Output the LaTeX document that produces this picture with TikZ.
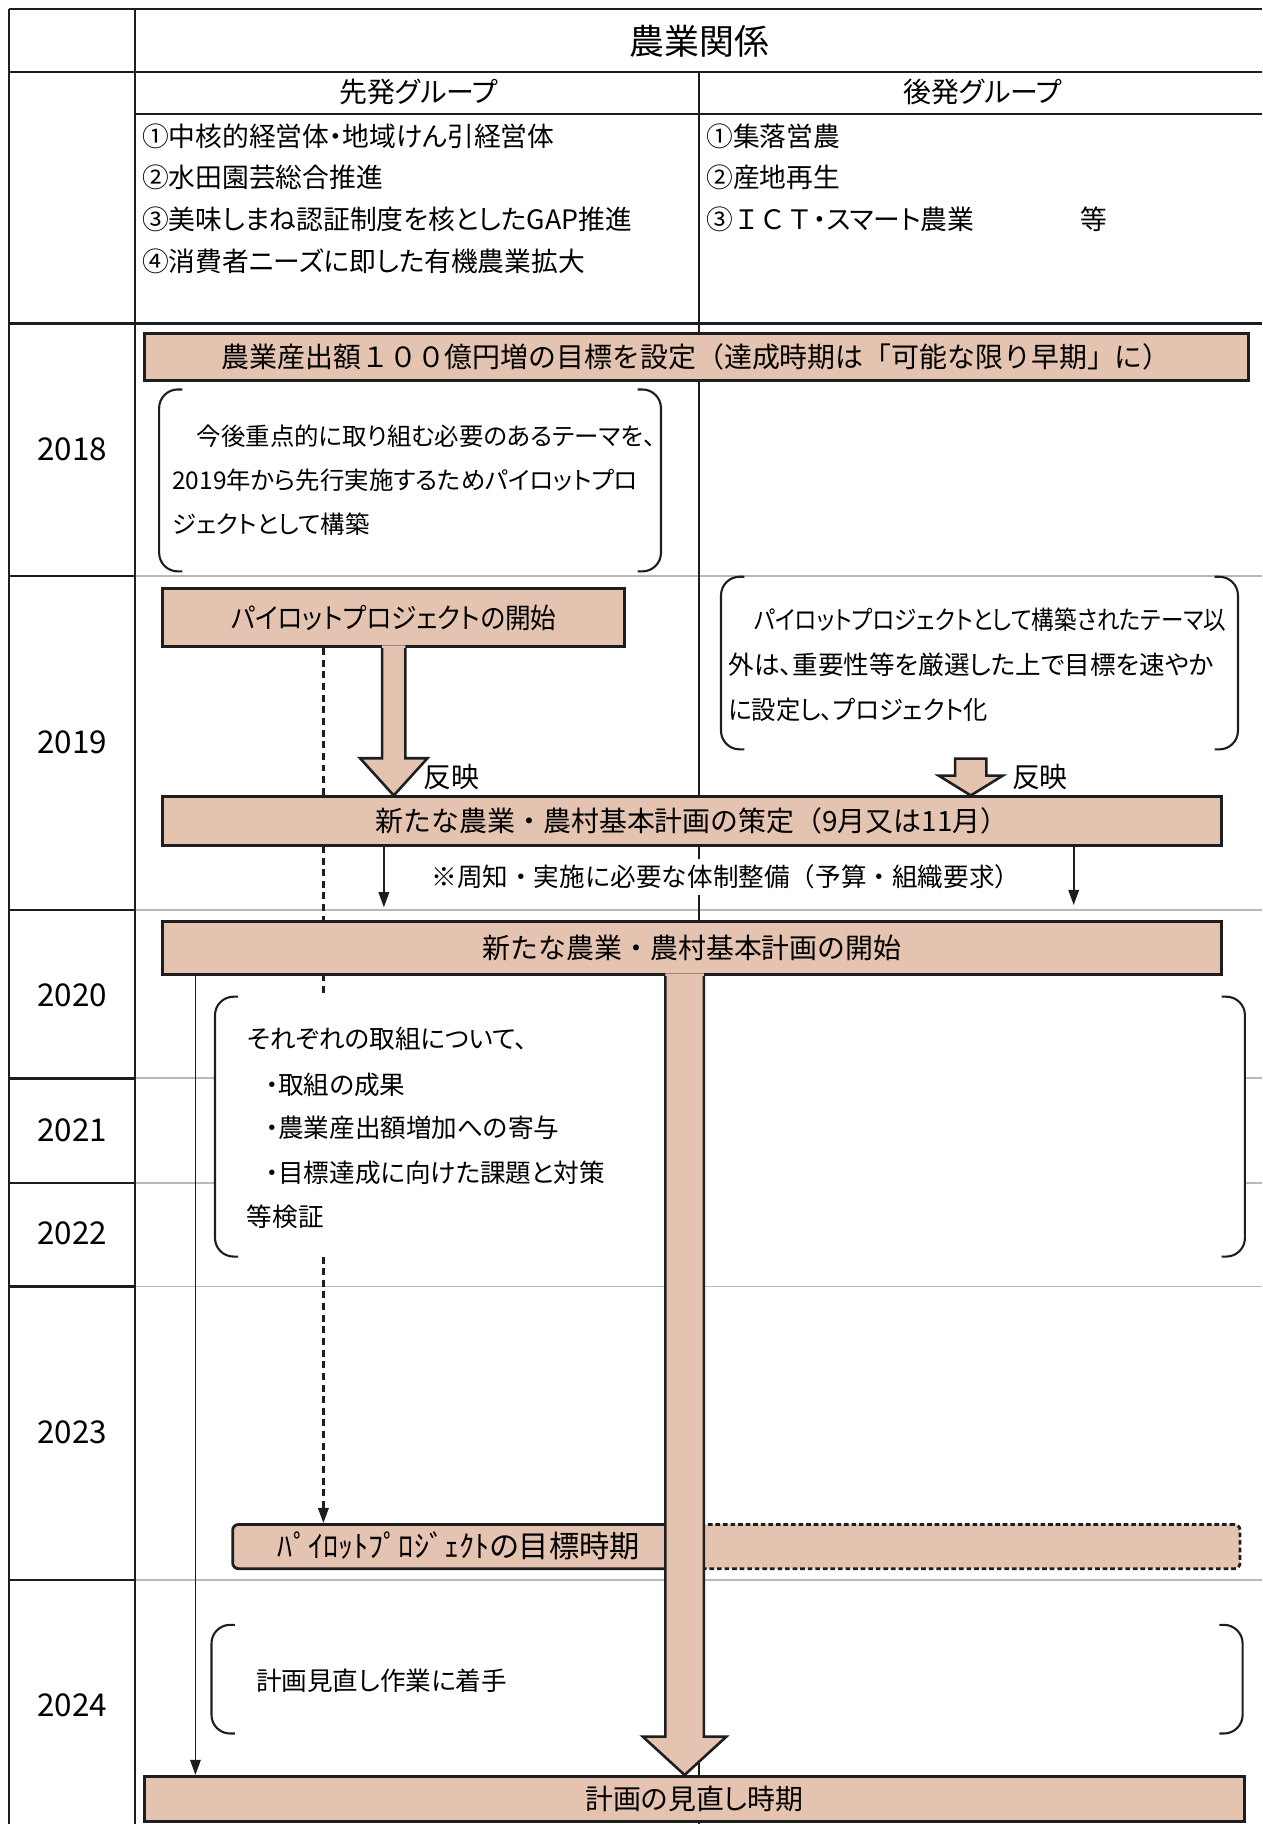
\documentclass[tikz,border=0pt]{standalone}
\usepackage{fontspec}
\usepackage{graphicx}
\setmainfont{Noto Sans CJK JP}[RawFeature=+palt]
\newfontfamily\jpw{Noto Sans CJK JP}
\usetikzlibrary{calc,arrows.meta,backgrounds}
\definecolor{boxfill}{RGB}{228,196,176}
\definecolor{gridgrey}{RGB}{185,185,185}
\definecolor{ink}{RGB}{30,30,30}
\newcommand{\fs}[1]{\fontsize{#1}{#1}\selectfont}
\newcommand{\brackets}[1]{%
 \draw[brk] ($(#1.north west)+(20,0)$) -- (#1.north west) -- (#1.south west) -- ($(#1.south west)+(20,0)$);
 \draw[brk] ($(#1.north east)+(-20,0)$) -- (#1.north east) -- (#1.south east) -- ($(#1.south east)+(-20,0)$);}
\newcommand{\hollowarrow}[5]{%
 \fill[boxfill] let \p1=(#1), \p2=(#2) in
  (\x1-#3pt,\y1+2.5pt) -- (\x1-#3pt,\y2+#5pt) -- (\x1-#4pt,\y2+#5pt) -- (\x1,\y2) -- (\x1+#4pt,\y2+#5pt) -- (\x1+#3pt,\y2+#5pt) -- (\x1+#3pt,\y1+2.5pt) -- cycle;
 \draw[arr] let \p1=(#1), \p2=(#2) in
  (\x1-#3pt,\y1) -- (\x1-#3pt,\y2+#5pt) -- (\x1-#4pt,\y2+#5pt) -- (\x1,\y2) -- (\x1+#4pt,\y2+#5pt) -- (\x1+#3pt,\y2+#5pt) -- (\x1+#3pt,\y1);}
\newcommand{\closedarrow}[5]{%
 \filldraw[arr, fill=boxfill] let \p1=(#1), \p2=(#2) in
  (\x1-#3pt,\y1) -- (\x1-#3pt,\y2+#5pt) -- (\x1-#4pt,\y2+#5pt) -- (\x1,\y2) -- (\x1+#4pt,\y2+#5pt) -- (\x1+#3pt,\y2+#5pt) -- (\x1+#3pt,\y1) -- cycle;}
\newcommand{\hs}[2]{\scalebox{#1}[1]{#2}}
\begin{document}
\begin{tikzpicture}[x=1pt,y=-1pt,
  fsz/.style={font=\fs{#1}, text height=#1*0.86pt, text depth=#1*0.12pt},
  fszw/.style={font=\fs{#1}\jpw, text height=#1*0.86pt, text depth=#1*0.12pt},
  lbl/.style={inner sep=0pt},
  ln/.style={lbl, anchor=west},
  tbox/.style={draw=ink, line width=2.4pt, fill=boxfill, inner sep=0pt, fsz=24},
  bbox/.style={fill=white, draw=none, inner sep=0pt},
  brk/.style={draw=ink, line width=1.8pt, rounded corners=16pt},
  thinarr/.style={draw=ink, line width=1.6pt, -{Triangle[length=13pt,width=9pt]}},
  dashln/.style={draw=ink, line width=2pt, dash pattern=on 6pt off 4pt},
  blk/.style={draw=ink, line width=2pt},
  gry/.style={draw=gridgrey, line width=1.5pt},
  arr/.style={draw=ink, line width=2.2pt, line join=miter},
  yr/.style={lbl, fsz=27},
  item/.style={ln, fsz=23},
  btxt/.style={ln, fsz=22}]
\useasboundingbox (0,0) rectangle (1085,1568);

% header
\node[lbl, fsz=30] (hdr) at (601,36) {農業関係};
\node[lbl, fsz=24] (g1) at (360,79) {先発グループ};
\node[lbl, fsz=24] (g2) at (845,79) {後発グループ};
\node[item] (i1) at (122,117) {①中核的経営体・地域けん引経営体};
\node[item] (i2) at (122,153) {②水田園芸総合推進};
\node[item] (i3) at (122,189) {③美味しまね認証制度を核としたGAP推進};
\node[item] (i4) at (122,225) {④消費者ニーズに即した有機農業拡大};
\node[item] (j1) at (607,117) {①集落営農};
\node[item] (j2) at (607,153) {②産地再生};
\node[item] (j3) at (607,189) {\makebox[322pt][l]{③{\jpw ＩＣＴ}・スマート農業}等};

% years
\node[yr] (y18) at (62,386) {2018};
\node[yr] (y19) at (62,638) {2019};
\node[yr] (y20) at (62,855) {2020};
\node[yr] (y21) at (62,971) {2021};
\node[yr] (y22) at (62,1060) {2022};
\node[yr] (y23) at (62,1231) {2023};
\node[yr] (y24) at (62,1466) {2024};

% bracket areas
\node[bbox, minimum width=431pt, minimum height=156pt] (b18) at (352.5,413) {};
\node[bbox, minimum width=444pt, minimum height=148pt] (b19) at (842,570) {};
\node[bbox, minimum width=885pt, minimum height=223pt] (b20) at (627.5,968.5) {};
\node[bbox, minimum width=886pt, minimum height=93pt] (b24) at (625,1443.5) {};
\brackets{b18}
\brackets{b19}
\brackets{b20}
\brackets{b24}

\node[btxt, fsz=21] (t18a) at (148,375) {　今後重点的に取り組む必要のあるテーマを、};
\node[btxt, fsz=21] (t18b) at (148,413) {2019年から先行実施するためパイロットプロ};
\node[btxt, fsz=21] (t18c) at (148,451) {ジェクトとして構築};
\node[btxt] (t19a) at (626,533) {　\hs{0.88}{パイロットプロジェクトとして構築されたテーマ以}};
\node[btxt] (t19b) at (626,572) {外は、重要性等を厳選した上で目標を速やか};
\node[btxt] (t19c) at (626,610) {\hs{0.95}{に設定し、プロジェクト化}};
\node[btxt] (t20a) at (212,893) {それぞれの取組について、};
\node[btxt] (t20b) at (228,933) {・取組の成果};
\node[btxt] (t20c) at (228,970) {・農業産出額増加への寄与};
\node[btxt] (t20d) at (228,1008) {・目標達成に向けた課題と対策};
\node[btxt] (t20e) at (212,1046) {等検証};
\node[btxt] (t24a) at (220,1445) {計画見直し作業に着手};

% boxes
\node[tbox, minimum width=949pt, minimum height=40pt, fszw=24] (goal) at (598.5,307) {農業産出額１００億円増の目標を設定（達成時期は「可能な限り早期」に）};
\node[tbox, minimum width=397pt, minimum height=50pt] (pilot) at (338.5,531) {\hs{0.92}{パイロットプロジェクトの開始}};
\node[tbox, minimum width=910pt, minimum height=42pt, fszw=24] (plan) at (595,706) {新たな農業・農村基本計画の策定（9月又は11月）};
\node[tbox, minimum width=910pt, minimum height=46pt, fszw=24] (planstart) at (595,815) {新たな農業・農村基本計画の開始};
\node[tbox, dash pattern=on 4pt off 2.5pt, rounded corners=5pt, minimum width=477pt, minimum height=38pt] (ptdash) at (827.5,1329.5) {};
\node[tbox, rounded corners=5pt, minimum width=389pt, minimum height=38pt, fsz=26] (ptarget) at (394.5,1329.5) {ﾊﾟｲﾛｯﾄﾌﾟﾛｼﾞｪｸﾄの目標時期};
\node[tbox, minimum width=946pt, minimum height=39pt] (review) at (597,1546.5) {計画の見直し時期};

% labels
\node[lbl, fsz=24] (r1) at (388,668) {反映};
\node[lbl, fsz=24] (r2) at (894,668) {反映};
\node[fszw=22, fill=white, inner xsep=2pt, inner ysep=5pt] (note) at (624,754) {※周知・実施に必要な体制整備（予算・組織要求）};

% arrows
\hollowarrow{pilot.south}{pilot.south |- plan.north}{10}{29}{32}
\coordinate (a3) at ($(b19.south)+(-7.5,8)$);
\closedarrow{a3}{a3 |- plan.north}{13.5}{27.5}{17}
\coordinate (a2) at ($(planstart.south)+(-6.5,0)$);
\hollowarrow{a2}{a2 |- review.north}{16.5}{36}{33}

\coordinate (c1) at (330,780);
\draw[thinarr] (c1 |- plan.south) -- (c1);
\coordinate (c2) at (923,778);
\draw[thinarr] (c2 |- plan.south) -- (c2);
\coordinate (c3) at (168,0);
\draw[thinarr] (c3 |- planstart.south) -- (c3 |- review.north);

\begin{scope}[on background layer]
\fill[white] (0,0) rectangle (1085,1568);
\draw[blk] (8,8) -- (1085,8);
\draw[blk] (8,62) -- (1085,62);
\draw[blk] (116,98) -- (1085,98);
\draw[blk] (8,278) -- (1085,278);
\foreach \yy in {495,782,927,1017,1106,1358} {
  \draw[blk] (8,\yy) -- (116,\yy);
  \draw[gry] (116,\yy) -- (1085,\yy);
}
\draw[blk] (8,8) -- (8,1568);
\draw[blk] (116,8) -- (116,1568);
\draw[blk, line width=1.5pt] (601,62) -- (601,1568);
\coordinate (dx) at (278,0);
\draw[dashln] (dx |- pilot.south) -- (dx |- b20.north);
\draw[dashln, -{Triangle[length=13pt,width=9pt]}] (dx |- b20.south) -- (dx |- ptarget.north);
\end{scope}
\end{tikzpicture}
\end{document}
